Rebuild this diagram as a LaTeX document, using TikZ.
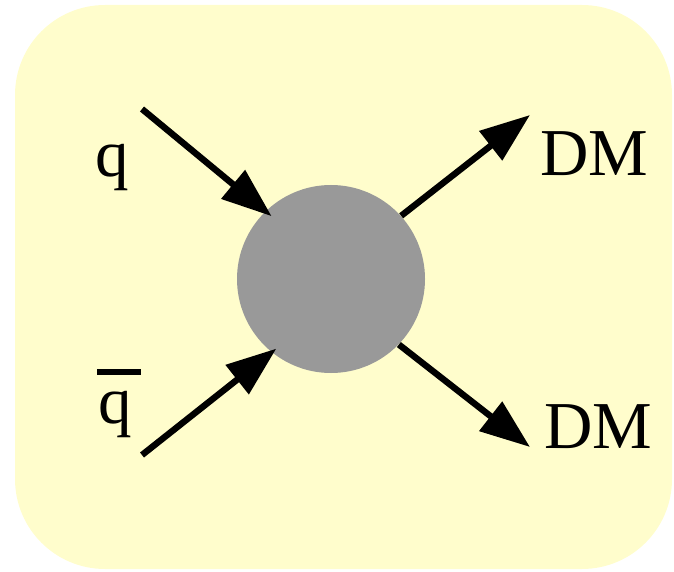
\documentclass[tikz,border=0pt]{standalone}
\usepackage{fontspec}
\setmainfont{Liberation Serif}
\usepackage{tikz}
\usetikzlibrary{arrows.meta, positioning, calc}

\definecolor{paleyellow}{RGB}{255,253,204}
\definecolor{blobgray}{RGB}{153,153,153}

\begin{document}
\begin{tikzpicture}[
  x=0.5pt, y=-0.5pt,
  panel/.style={fill=paleyellow, draw=none, rounded corners=45pt},
  blob/.style={circle, fill=blobgray, minimum size=94pt, inner sep=0pt},
  label/.style={font=\fontsize{33.5pt}{36pt}\selectfont, inner sep=0pt},
  arrow/.style={-{Triangle[length=25pt, width=18pt]}, line width=3.2pt, black}
]
  \useasboundingbox (0,0) rectangle (674,572);
  \fill[panel] (15,5) rectangle (672,569);

  \node[blob] (core) at (331,279) {};

  \coordinate (qin) at (142,109);
  \coordinate (qbarin) at (142,455);
  \coordinate (dmup) at (530,115);
  \coordinate (dmdown) at (530,447);

  \node[label, anchor=base] (q) at (112,177) {q};
  \node[label, anchor=base] (qbar) at (115,423) {q};
  \fill (97,369) rectangle (141,375);

  \node[label, anchor=base west] (dmtop) at (540,176) {DM};
  \node[label, anchor=base west] (dmbottom) at (544,448) {DM};

  \draw[arrow, shorten >=-4pt] (qin) -- (core.134);
  \draw[arrow, shorten >=-3pt] (qbarin) -- (core.-129);
  \draw[arrow] (core.42) -- (dmup);
  \draw[arrow] (core.-44) -- (dmdown);
\end{tikzpicture}
\end{document}
